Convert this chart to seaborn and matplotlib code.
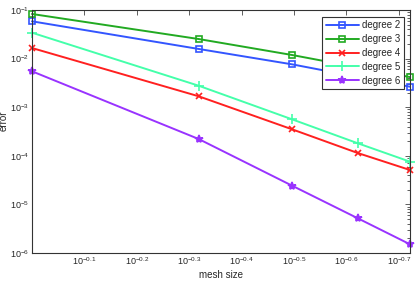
import matplotlib
matplotlib.use("Agg")
import matplotlib.pyplot as plt
import matplotlib.ticker as mticker
import numpy as np
import pandas as pd
import seaborn as sns

mesh_size = [1.0, 0.481, 0.319, 0.239, 0.190]
degree_2 = [0.0585, 0.0158, 0.00762, 0.0042, 0.00264]
degree_3 = [0.0828, 0.0253, 0.01186, 0.0066, 0.00417]
degree_4 = [0.0165, 0.00168, 0.000351, 0.000114, 5.1e-5]
degree_5 = [0.0341, 0.00277, 0.000563, 0.000181, 7.57e-5]
degree_6 = [0.00548, 0.000222, 2.43e-5, 5.18e-6, 1.51e-6]
series_names = ["degree 2", "degree 3", "degree 4", "degree 5", "degree 6"]
x_ticks = [10**-0.1, 10**-0.2, 10**-0.3, 10**-0.4, 10**-0.5, 10**-0.6, 10**-0.7]
x_tick_labels = ["$10^{-0.1}$", "$10^{-0.2}$", "$10^{-0.3}$", "$10^{-0.4}$",
                 "$10^{-0.5}$", "$10^{-0.6}$", "$10^{-0.7}$"]

sns.set_style("white")
plt.rcParams["font.family"] = ["Liberation Sans", "DejaVu Sans"]
plt.rcParams["mathtext.fontset"] = "custom"
plt.rcParams["mathtext.rm"] = "Liberation Sans"
plt.rcParams["mathtext.it"] = "Liberation Sans"
plt.rcParams["mathtext.default"] = "regular"

values = [degree_2, degree_3, degree_4, degree_5, degree_6]
df = pd.DataFrame({
    "mesh size": np.tile(mesh_size, len(series_names)),
    "error": np.concatenate(values),
    "series": np.repeat(series_names, len(mesh_size)),
})

colors = ["#3355ff", "#22aa22", "#ff2020", "#44ffaa", "#9933ff"]
markers = ["s", "s", "x", "+", "*"]
msizes = [5, 5, 4.5, 7, 6]

fig = plt.figure(figsize=(4.15, 2.81), dpi=100)
ax = fig.add_axes([32/415, 1-253/281, (410-32)/415, (253-10)/281])

for name, c, m, ms in zip(series_names, colors, markers, msizes):
    sub = df[df["series"] == name]
    mfc = "none" if m == "s" else c
    sns.lineplot(data=sub, x="mesh size", y="error", ax=ax, color=c,
                 marker=m, markersize=ms, markerfacecolor=mfc,
                 markeredgecolor=c, markeredgewidth=1.2, linewidth=1.4,
                 label=name, clip_on=False, estimator=None)

ax.set_xscale("log")
ax.set_yscale("log")
ax.set_xlim(max(mesh_size), min(mesh_size))
ax.set_ylim(1e-6, 1e-1)

ax.xaxis.set_major_locator(mticker.FixedLocator(x_ticks))
ax.xaxis.set_major_formatter(mticker.FixedFormatter(x_tick_labels))
ax.xaxis.set_minor_locator(mticker.NullLocator())
ax.yaxis.set_major_locator(mticker.LogLocator(base=10, numticks=10))
ax.yaxis.set_minor_locator(mticker.LogLocator(base=10, subs=np.arange(2, 10), numticks=10))
ax.yaxis.set_minor_formatter(mticker.NullFormatter())

ax.tick_params(which="both", direction="in", top=True, right=True,
               labelsize=6.5, color="#444444", width=0.6, pad=2)
ax.tick_params(which="major", length=3.5)
ax.tick_params(which="minor", length=2)
for s in ax.spines.values():
    s.set_color("#333333")
    s.set_linewidth(0.8)

ax.set_xlabel("mesh size", fontsize=7, labelpad=2)
ax.set_ylabel("error", fontsize=7)
ax.yaxis.set_label_coords(-23/378, (253-121)/243)

leg = ax.legend(loc="upper right", bbox_to_anchor=(0.99, 0.98), fontsize=7,
                frameon=True, fancybox=False, edgecolor="#333333",
                framealpha=1, borderpad=0.35, labelspacing=0.4,
                handlelength=3.4, handletextpad=0.4, borderaxespad=0.2)
leg.get_frame().set_linewidth(0.8)

fig.savefig("out.png", dpi=100)
